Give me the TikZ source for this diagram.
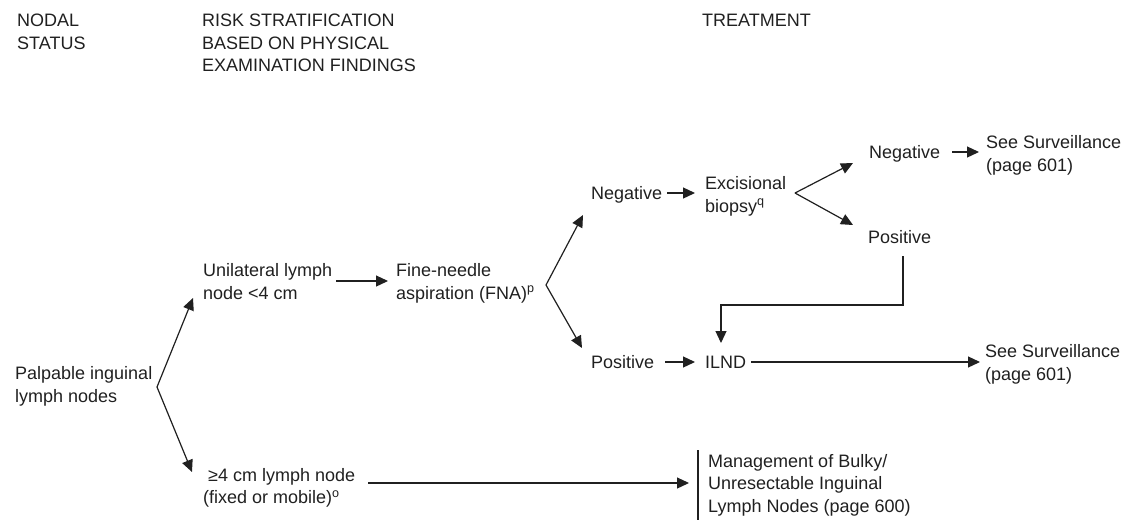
\documentclass[tikz,border=0pt]{standalone}
\usepackage{fontspec}
\setmainfont{Liberation Sans}
\usetikzlibrary{arrows.meta}
\definecolor{ink}{HTML}{202020}
\begin{document}
\begin{tikzpicture}[x=1pt,y=-1pt,
  lbl/.style={anchor=base west,align=left,inner sep=0pt,text=ink,
    font=\fontsize{18}{22.5}\selectfont},
  conn/.style={draw=ink,line width=1.2pt},
  arr/.style={conn,-{Triangle[length=12pt,width=11pt]}}]
\useasboundingbox (0,0) rectangle (1138,523);

% column headings (placed at the baseline of their last line)
\node[lbl] (nodal) at (17,49) {NODAL\\STATUS};
\node[lbl] (risk)  at (202,71.5) {RISK STRATIFICATION\\BASED ON PHYSICAL\\EXAMINATION FINDINGS};
\node[lbl] (treat) at (702,26.5) {TREATMENT};

% flow nodes
\node[lbl] (palp) at (15,402) {Palpable inguinal\\lymph nodes};
\node[lbl] (uni)  at (203,299) {Unilateral lymph\\node <4 cm};
\node[lbl] (fna)  at (396,299) {Fine-needle\\aspiration (FNA)\textsuperscript{p}};
\node[lbl] (neg1) at (591,199.5) {Negative};
\node[lbl] (exc)  at (705,212) {Excisional\\biopsy\textsuperscript{q}};
\node[lbl] (pos1) at (591,368.5) {Positive};
\node[lbl] (ilnd) at (705,368.5) {ILND};
\node[lbl] (neg2) at (869,158.5) {Negative};
\node[lbl] (pos2) at (868,243.5) {Positive};
\node[lbl] (surv1) at (986,171) {See Surveillance\\(page 601)};
\node[lbl] (surv2) at (985,380) {See Surveillance\\(page 601)};
\node[lbl] (big)  at (203,503.5) {\hspace{5pt}≥4 cm lymph node\\(fixed or mobile)\textsuperscript{o}};
\node[lbl] (mgmt) at (708,512) {Management of Bulky/\\Unresectable Inguinal\\Lymph Nodes (page 600)};

% branch points and connector ends
\coordinate (forkA) at (157,387);
\coordinate (forkB) at (546,285);
\coordinate (forkC) at (795,193);
\coordinate (unitip) at (193,298);
\coordinate (bigtip) at (192,472);
\coordinate (negtip) at (583,215);
\coordinate (postip) at (582,348);
\coordinate (neg2tip) at (853,163);
\coordinate (pos2tip) at (853,225);

% palpable nodes split by size
\draw[arr] (forkA) -- (unitip);
\draw[arr] (forkA) -- (bigtip);
\draw[arr] ([xshift=4pt]uni.east |- 0,281) -- ([xshift=-8pt]fna.west |- 0,281);

% FNA result
\draw[arr] (forkB) -- (negtip);
\draw[arr] (forkB) -- (postip);
\draw[arr] (667,193) -- ([xshift=-10pt]exc.west |- 0,193);
\draw[arr] (665,362) -- ([xshift=-10pt]ilnd.west |- 0,362);

% excisional biopsy result
\draw[arr] (forkC) -- (neg2tip);
\draw[arr] (forkC) -- (pos2tip);
\draw[arr] (952,152) -- ([xshift=-7pt]surv1.west |- 0,152);
\draw[arr] (903,256) -- (903,305) -- (721,305) -- (721,343);

% dissection and bulky disease
\draw[arr] (751,362) -- ([xshift=-5pt]surv2.west |- 0,362);
\draw[arr] (368,483) -- (689,483);
\draw[conn] (698,450) -- (698,520);
\end{tikzpicture}
\end{document}
